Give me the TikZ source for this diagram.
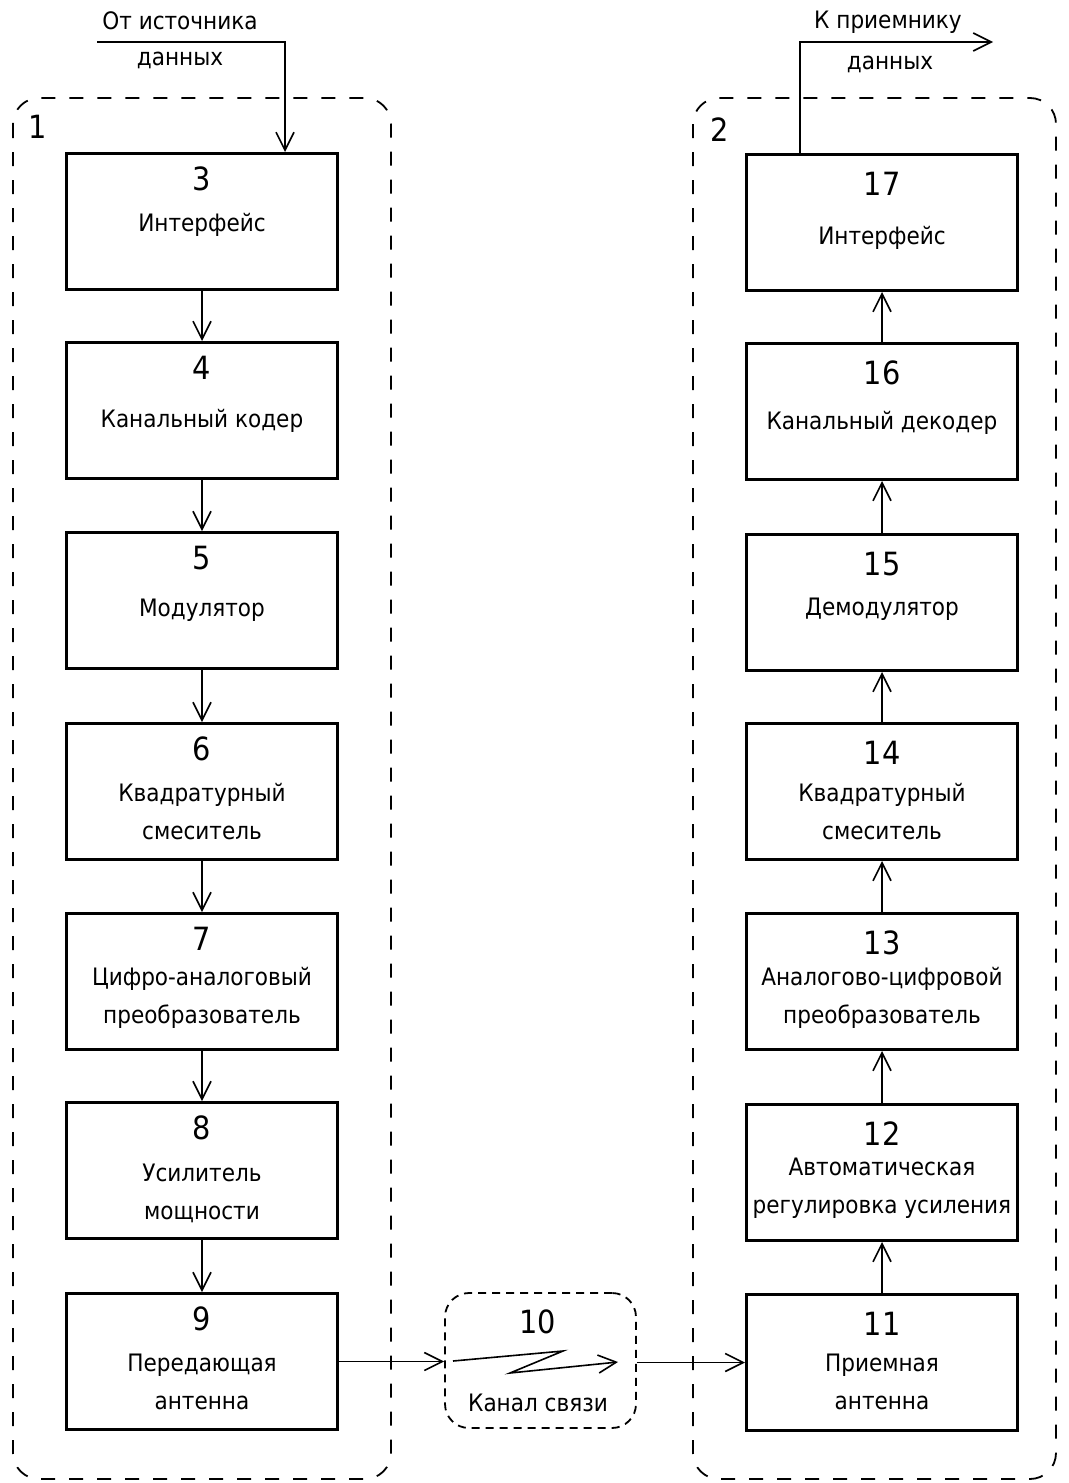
\documentclass[tikz,border=0pt]{standalone}
\usepackage{fontspec}
\setmainfont{DejaVu Sans Condensed}
\usetikzlibrary{arrows.meta}
\tikzstyle{block}=[draw,line width=1.5pt,minimum width=135.5pt,minimum height=68pt,inner sep=0pt]
\tikzstyle{group}=[draw,line width=0.9pt,dash pattern=on 7pt off 7pt,rounded corners=13pt]
\tikzstyle{chan}=[draw,line width=0.9pt,dash pattern=on 4pt off 3pt,rounded corners=12pt,minimum width=95.5pt,minimum height=67.5pt,inner sep=0pt]
\tikzstyle{arr}=[draw,line width=0.8pt,-{Straight Barb[length=9pt,width=9pt]}]
\tikzstyle{num}=[font=\fontsize{16}{18}\selectfont]
\tikzstyle{txt}=[font=\fontsize{12}{19}\selectfont,align=center]

\begin{document}
\begin{tikzpicture}[x=0.5pt,y=-0.5pt]
        \useasboundingbox (0,0) rectangle (1069,1483);
        % groups
        \draw[group] (13,98) rectangle (391,1479);
        \draw[group] (693,98) rectangle (1056,1479);
        \node[num] (g1) at (38,127) {1};
        \node[num] (g2) at (720,130) {2};
        % transmitter
        \foreach \n/\t/\ty/\s in {3/152/225/{Интерфейс},4/341/421/{Канальный кодер},
            5/531/610/{Модулятор},6/722/812/{Квадратурный\\смеситель},
            7/912/998/{Цифро-аналоговый\\преобразователь},8/1101/1193/{Усилитель\\мощности},
            9/1292/1382/{Передающая\\антенна}}{
            \node[block,anchor=north] (b\n) at (202,\t) {};
            \node[num] (n\n) at (202,\t+27) {\n};
            \node[txt] (t\n) at (202,\ty) {\s};
        }
        % receiver
        \foreach \n/\t/\ty/\s in {17/153/238/{Интерфейс},16/342/423/{Канальный декодер},
            15/533/609/{Демодулятор},14/722/812/{Квадратурный\\смеситель},
            13/912/998/{Аналогово-цифровой\\преобразователь},12/1103/1188/{Автоматическая\\регулировка усиления},
            11/1293/1382/{Приемная\\антенна}}{
            \node[block,anchor=north] (b\n) at (882,\t) {};
            \node[num] (n\n) at (882,\t+31) {\n};
            \node[txt] (t\n) at (882,\ty) {\s};
        }
        \foreach \a/\b in {3/4,4/5,5/6,6/7,7/8,8/9,11/12,12/13,13/14,14/15,15/16,16/17}{
            \path[arr] (b\a) -- (b\b);
        }
        % channel
        \node[chan] (c10) at (540.5,1360.5) {};
        \node[num] (n10) at (538,1322) {10};
        \node[txt] (t10) at (538,1403) {Канал связи};
        \coordinate (z0) at (453,1361);
        \coordinate (z1) at (563,1351);
        \coordinate (z2) at (510,1373);
        \coordinate (z3) at (618,1362);
        \path[arr] (z0) -- (z1) -- (z2) -- (z3);
        \path[arr] (b9.east) -- (b9.east -| c10.west);
        \path[arr] (c10.east |- b11) -- (b11.west);
        % input / output
        \coordinate (in0) at (97,42);
        \coordinate (in1) at (285,42);
        \node[txt] (src1) at (180,21) {От источника};
        \node[txt] (src2) at (180,60) {данных};
        \path[arr] (in0) -- (in1) -- (in1 |- b3.north);
        \coordinate (out1) at (800,42);
        \coordinate (out0) at (993,42);
        \node[txt] (dst1) at (888,22) {К приемнику};
        \node[txt] (dst2) at (890,64) {данных};
        \path[arr] (out1 |- b17.north) -- (out1) -- (out0);
    \end{tikzpicture}
\end{document}
